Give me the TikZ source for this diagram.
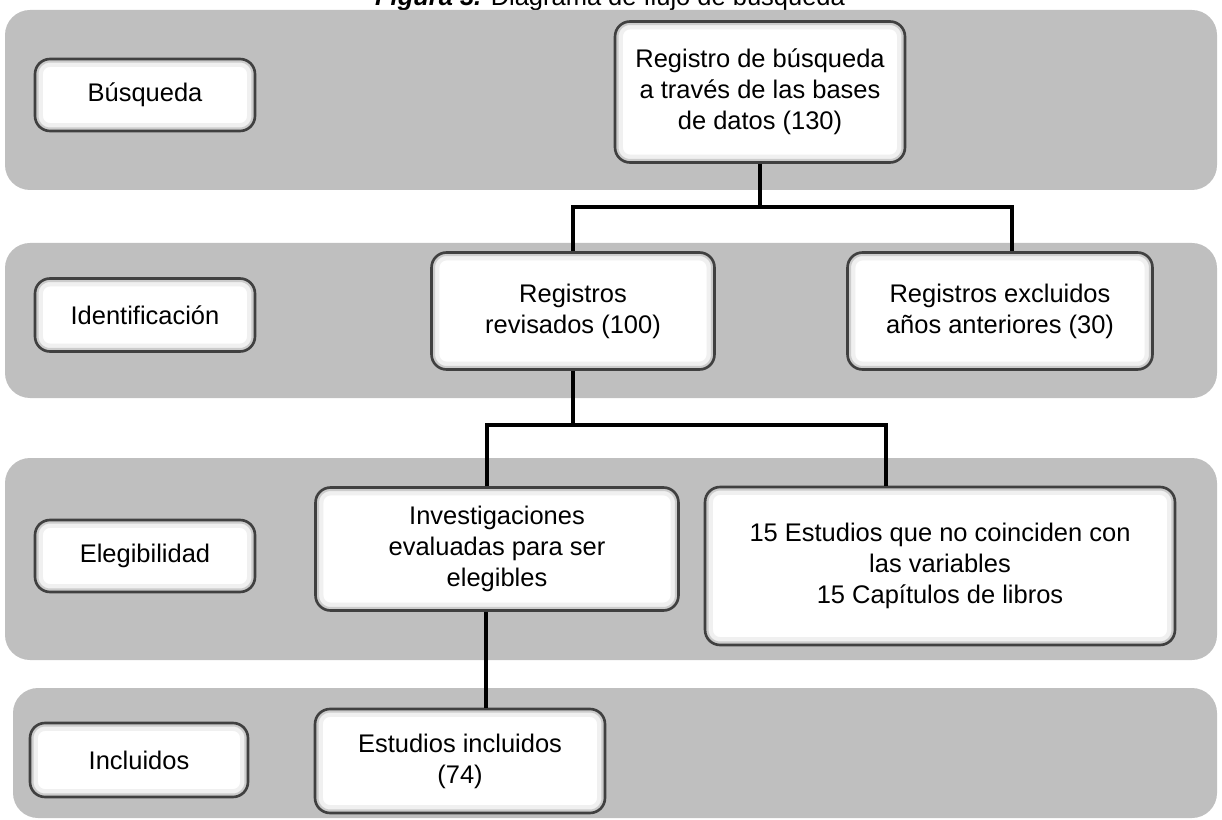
\documentclass[tikz,border=0pt]{standalone}
\usepackage{fontspec}
\setmainfont{Liberation Sans}
\usetikzlibrary{positioning}
\definecolor{bandgray}{RGB}{191,191,191}
\definecolor{boxline}{RGB}{64,64,64}

\begin{document}
\begin{tikzpicture}[
  x=0.02cm, y=-0.02cm,
  band/.style={fill=bandgray, rounded corners=0.5cm},
  box/.style={rectangle, draw=boxline, line width=1.5pt, fill=white, rounded corners=0.3cm, align=center, inner sep=0pt, font=\fontsize{14.5}{17.6}\selectfont,
    path picture={
      \draw[gray!12, line width=9pt, rounded corners=0.3cm] (path picture bounding box.south west) rectangle (path picture bounding box.north east);
      \draw[gray!40, line width=4pt, rounded corners=0.3cm] (path picture bounding box.south west) rectangle (path picture bounding box.north east);
    }},
  link/.style={line width=2pt, black}
]
\useasboundingbox (0,0) rectangle (1222,820);
% title, its top is cut by the page edge
\node[anchor=base, inner sep=0pt, font=\fontsize{14.5}{17.6}\selectfont] (title) at (610,6) {\textbf{\textit{Figura 3.}} Diagrama de flujo de búsqueda};

% grey bands
\fill[band] (5,10) rectangle (1217,190);
\fill[band] (5,243) rectangle (1217,398);
\fill[band] (5,458) rectangle (1217,660);
\fill[band] (13,688) rectangle (1217,818);

% stage labels
\node[box, minimum width=4.4cm, minimum height=1.44cm] (busq) at (145,95) {Búsqueda};
\node[box, minimum width=4.4cm, minimum height=1.46cm] (ident) at (145,315) {Identificación};
\node[box, minimum width=4.4cm, minimum height=1.44cm] (eleg) at (145,556) {Elegibilidad};
\node[box, minimum width=4.36cm, minimum height=1.48cm] (incl) at (139,760) {Incluidos};

% flow boxes
\node[box, minimum width=5.8cm, minimum height=2.82cm] (reg) at (760,92) {Registro de búsqueda\\a través de las bases\\de datos (130)};
\node[box, minimum width=5.66cm, minimum height=2.34cm] (rev) at (573,311) {Registros\\revisados (100)};
\node[box, minimum width=6.1cm, minimum height=2.34cm] (excl) at (1000,311) {Registros excluidos\\años anteriores (30)};
\node[box, minimum width=7.26cm, minimum height=2.46cm] (inv) at (497,549) {Investigaciones\\evaluadas para ser\\elegibles};
\node[box, minimum width=9.4cm, minimum height=3.16cm] (est) at (940,566) {15 Estudios que no coinciden con\\las variables\\15 Capítulos de libros};
\node[box, minimum width=5.8cm, minimum height=2.08cm] (inc) at (460,761) {Estudios incluidos\\(74)};

% connectors
\coordinate (h1) at (0,207);
\coordinate (h2) at (0,425);
\draw[link] (reg.south) -- (reg.south |- h1);
\draw[link] (rev.north) |- (reg.south |- h1) -| ([xshift=0.24cm]excl.north);
\draw[link] (rev.south) -- (rev.south |- h2);
\draw[link] ([xshift=-0.2cm]inv.north) |- (rev.south |- h2) -| ([xshift=-1.08cm]est.north);
\draw[link] ([xshift=-0.22cm]inv.south) -- ([xshift=-0.22cm]inv.south |- inc.north);
\end{tikzpicture}
\end{document}
